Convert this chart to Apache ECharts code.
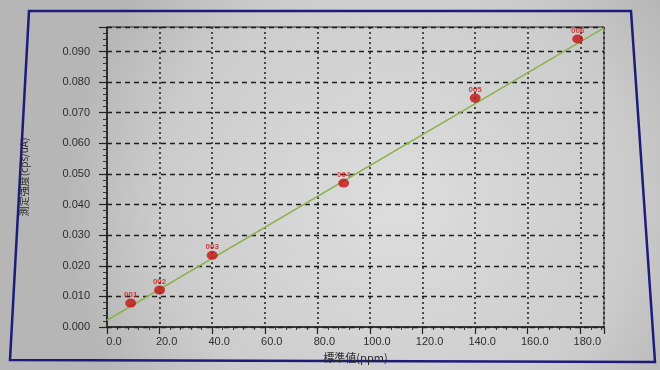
<!DOCTYPE html>
<html>
<head>
<meta charset="utf-8">
<script src="https://cdn.jsdelivr.net/npm/echarts@6/dist/echarts.min.js"></script>
<style>html,body{margin:0;padding:0;background:#cccccc;}#c{width:660px;height:370px;}</style>
</head>
<body>
<div id="c"></div>
<script>
// Standard samples
var sampleNames = ['001', '002', '003', '004', '005', '006'];
var stdX = [9, 20, 40, 90, 140, 179];          // 標準値 (ppm)
var stdY = [0.0078, 0.0121, 0.0234, 0.0470, 0.0748, 0.0941]; // 測定強度 (cps/uA)
// Calibration line end points
var fitX = [0, 189];
var fitY = [0.0022, 0.0977];
var xTicks = { min: 0, max: 189, interval: 20 };
var yTicks = { min: 0, max: 0.098, interval: 0.01 };

var chart = echarts.init(document.getElementById('c'), null, { renderer: 'canvas' });
var pts = stdX.map(function (x, i) { return { name: sampleNames[i], value: [x, stdY[i]] }; });
var fit = fitX.map(function (x, i) { return [x, fitY[i]]; });
var fontLat = '"Liberation Sans", Arial, sans-serif';
var fontJp = '"Noto Sans CJK JP", sans-serif';

chart.setOption({
  backgroundColor: {
    type: 'radial', x: 0.6, y: 0.55, r: 0.9,
    colorStops: [{ offset: 0, color: '#dddddd' }, { offset: 0.7, color: '#cccccc' }, { offset: 1, color: '#b6b6b6' }]
  },
  animation: false,
  graphic: [{
    type: 'polygon', z: -1,
    shape: { points: [[29, 11], [631, 11], [655, 362], [10, 360]] },
    style: { fill: 'rgba(0,0,0,0)', stroke: '#1c1c7a', lineWidth: 2.5 }
  }],
  grid: { left: 107, right: 56, top: 27, bottom: 43, show: true, borderColor: '#2a2a2a', borderWidth: 1, backgroundColor: 'transparent' },
  xAxis: {
    type: 'value', min: xTicks.min, max: xTicks.max, interval: xTicks.interval,
    name: '標準値(ppm)', nameLocation: 'middle', nameGap: 14,
    nameTextStyle: { fontFamily: fontJp, fontSize: 11, color: '#2a2a2a' },
    axisLine: { show: true, onZero: false, lineStyle: { color: '#222', width: 1.5 } },
    axisTick: { show: true, inside: false, length: 7, lineStyle: { color: '#222', width: 1.2 } },
    minorTick: { show: true, splitNumber: 5, length: 3, lineStyle: { color: '#333' } },
    axisLabel: {
      color: '#2e2e2e', fontSize: 11, fontFamily: fontLat, margin: 9, padding: [0, 0, 0, 14],
      showMaxLabel: false,
      formatter: function (v) { return v.toFixed(1); }
    },
    splitLine: { show: true, lineStyle: { color: '#1e1e1e', type: [2, 3], width: 1.5 } }
  },
  yAxis: {
    type: 'value', min: yTicks.min, max: yTicks.max, interval: yTicks.interval,
    name: '測定強度(cps/uA)', nameLocation: 'middle', nameGap: 78, nameRotate: 90,
    nameTextStyle: { fontFamily: fontJp, fontSize: 10, color: '#2a2a2a' },
    axisLine: { show: true, lineStyle: { color: '#222', width: 1.5 } },
    axisTick: { show: true, inside: false, length: 8, lineStyle: { color: '#222', width: 1.2 } },
    minorTick: { show: true, splitNumber: 5, length: 4, lineStyle: { color: '#333' } },
    axisLabel: {
      color: '#2e2e2e', fontSize: 11, fontFamily: fontLat, margin: 17,
      showMaxLabel: false,
      formatter: function (v) { return v.toFixed(3); }
    },
    splitLine: { show: true, lineStyle: { color: '#1e1e1e', type: [5, 4], width: 1.3 } }
  },
  series: [{
    type: 'line', data: fit, symbol: 'none', silent: true,
    lineStyle: { color: '#8db24e', width: 1.5 }, z: 2
  }, {
    type: 'scatter', data: pts, symbol: 'circle', symbolSize: [11, 9], z: 3,
    itemStyle: { color: '#c41010' },
    label: {
      show: true, position: 'top', distance: 0, formatter: '{b}',
      fontSize: 8, fontFamily: fontLat, color: '#d01818', fontWeight: 'bold'
    }
  }]
});
</script>
</body>
</html>
